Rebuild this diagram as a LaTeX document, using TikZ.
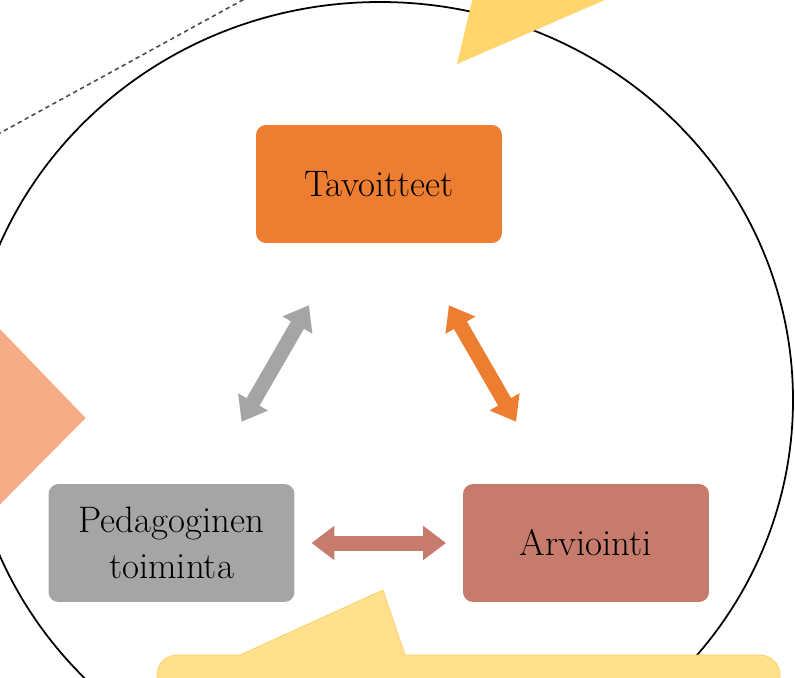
\documentclass[tikz,border=0pt]{standalone}
\usepackage{xcolor}
\usepackage{tikz}
\usetikzlibrary{arrows.meta}

\definecolor{tavorange}{HTML}{ED7D31}
\definecolor{pedgray}{HTML}{A5A5A5}
\definecolor{arvrose}{HTML}{C67B6C}
\definecolor{callgold}{HTML}{FFD56E}
\definecolor{callpale}{HTML}{FFE08C}
\definecolor{salmon}{HTML}{F6AD87}

\begin{document}
\begin{tikzpicture}[x=0.02cm,y=-0.02cm]
  \tikzstyle{box}=[rectangle,rounded corners=0.2cm,minimum width=4.92cm,minimum height=2.36cm,align=center,font=\fontsize{21}{26}\selectfont]
  \tikzstyle{link}=[line width=0.3cm,{Triangle[width=0.66cm,length=0.46cm]}-{Triangle[width=0.66cm,length=0.46cm]},shorten <=2.8cm,shorten >=2.8cm]

  \useasboundingbox (0,0) rectangle (795,677);
  \clip (0,0) rectangle (795,677);

   
  \draw[dash pattern=on 2.5pt off 2pt,line width=0.9pt,black!70] (-10,138.5) -- (260,-9.5);
  \draw[line width=1pt] (380,400) ellipse [x radius=413,y radius=398];

   
  \fill[callgold] (457,64) -- (477,-20) -- (651,-20) -- cycle;
  \filldraw[fill=salmon,draw=salmon!85!orange,thin] (-20,309) -- (85,418) -- (-20,524) -- cycle;
  \filldraw[fill=callpale,draw=callgold!90!orange,thin] (157,720) [rounded corners=0.4cm] -- (157,655) [sharp corners] -- (240,655) -- (383,590) -- (405,655) [rounded corners=0.4cm] -- (780,655) -- (780,720);

   
  \node[box,fill=tavorange] (tav) at (379,184) {Tavoitteet};
  \node[box,fill=pedgray] (ped) at (171.5,543) {Pedagoginen\\toiminta};
  \node[box,fill=arvrose] (arv) at (586,543) {Arviointi};

   
  \draw[link,pedgray] (ped.center) -- (tav.center);
  \draw[link,tavorange] (tav.center) -- (arv.center);
  \draw[link,arvrose] (ped.center) -- (arv.center);
\end{tikzpicture}
\end{document}
